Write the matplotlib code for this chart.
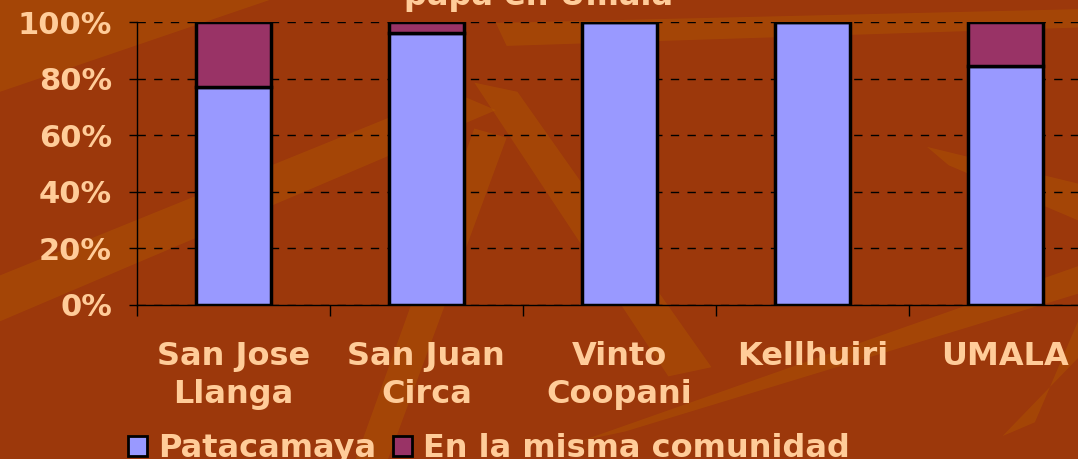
import matplotlib.pyplot as plt
from matplotlib.patches import Polygon, Patch

categories = ['San Jose\nLlanga', 'San Juan\nCirca', 'Vinto\nCoopani', 'Kellhuiri', 'UMALA']
patacamaya = [77, 96, 100, 100, 84.5]
misma_comunidad = [23, 4, 0, 0, 15.5]
ytick_labels = ['0%', '20%', '40%', '60%', '80%', '100%']

txt = '#FFCC99'
plt.rcParams['font.family'] = ['DejaVu Sans']
plt.rcParams['font.weight'] = 'bold'

fig = plt.figure(figsize=(10.78, 4.59), dpi=100)
fig.patch.set_facecolor('#9C380B')

# background streaks (decoration)
streaks = [
    [(0, 0.30), (0, 0.40), (0.42, 0.80), (0.46, 0.76)],
    [(0.33, 0.0), (0.36, 0.0), (0.47, 0.70), (0.44, 0.72)],
    [(0.46, 0.95), (1.0, 0.98), (1.0, 0.94), (0.47, 0.90)],
    [(0.44, 0.82), (0.62, 0.18), (0.66, 0.20), (0.48, 0.80)],
    [(0.54, 0.04), (1.0, 0.42), (1.0, 0.36), (0.58, 0.06)],
    [(0.86, 0.68), (1.0, 0.60), (1.0, 0.52), (0.88, 0.64)],
    [(0.93, 0.05), (1.0, 0.22), (1.0, 0.30), (0.96, 0.08)],
    [(0.0, 0.80), (0.25, 1.0), (0.0, 1.0)],
]
for pts in streaks:
    fig.patches.append(Polygon(pts, closed=True, transform=fig.transFigure,
                               facecolor='#B25A00', edgecolor='none', alpha=0.4, zorder=-1))

ax = fig.add_axes([0.127, 0.336, 0.895, 0.616])
ax.set_facecolor('none')

x = range(len(categories))
ax.bar(x, patacamaya, width=0.39, color='#9999FF', edgecolor='black', linewidth=2.5, zorder=3)
ax.bar(x, misma_comunidad, bottom=patacamaya, width=0.39, color='#993366',
       edgecolor='black', linewidth=2.5, zorder=3)

ax.set_xlim(-0.5, 4.5)
ax.set_ylim(0, 100)
ax.set_yticks([0, 20, 40, 60, 80, 100])
ax.set_yticklabels(ytick_labels)
ax.yaxis.grid(True, linestyle=(0, (6, 6)), color='black', linewidth=1)
ax.set_axisbelow(True)
ax.set_xticks(list(x))
ax.set_xticklabels(categories, linespacing=1.3)
ax.set_xticks([-0.5, 0.5, 1.5, 2.5, 3.5, 4.5], minor=True)
ax.tick_params(axis='x', which='major', length=0, pad=26, labelsize=23, labelcolor=txt)
ax.tick_params(axis='x', which='minor', length=8, width=1, direction='out', color='black')
ax.tick_params(axis='y', length=6, width=1, direction='out', color='black', pad=12,
               labelsize=22, labelcolor=txt)
for s in ['top', 'right']:
    ax.spines[s].set_visible(False)
for s in ['left', 'bottom']:
    ax.spines[s].set_color('black')
    ax.spines[s].set_linewidth(1)

fig.text(0.5, 0.989, 'papa en Umala', ha='center', va='baseline', fontsize=23,
         color=txt, fontweight='bold')

handles = [Patch(facecolor='#9999FF', edgecolor='black', linewidth=2),
           Patch(facecolor='#993366', edgecolor='black', linewidth=2)]
fig.legend(handles, ['Patacamaya', 'En la misma comunidad'], loc='center left',
           bbox_to_anchor=(0.104, 0.022), ncol=2, frameon=False, fontsize=23,
           labelcolor=txt, handlelength=0.6, handleheight=0.6, handletextpad=0.35,
           columnspacing=0.5, borderpad=0)

fig.savefig('out.png', dpi=100, facecolor=fig.get_facecolor())
